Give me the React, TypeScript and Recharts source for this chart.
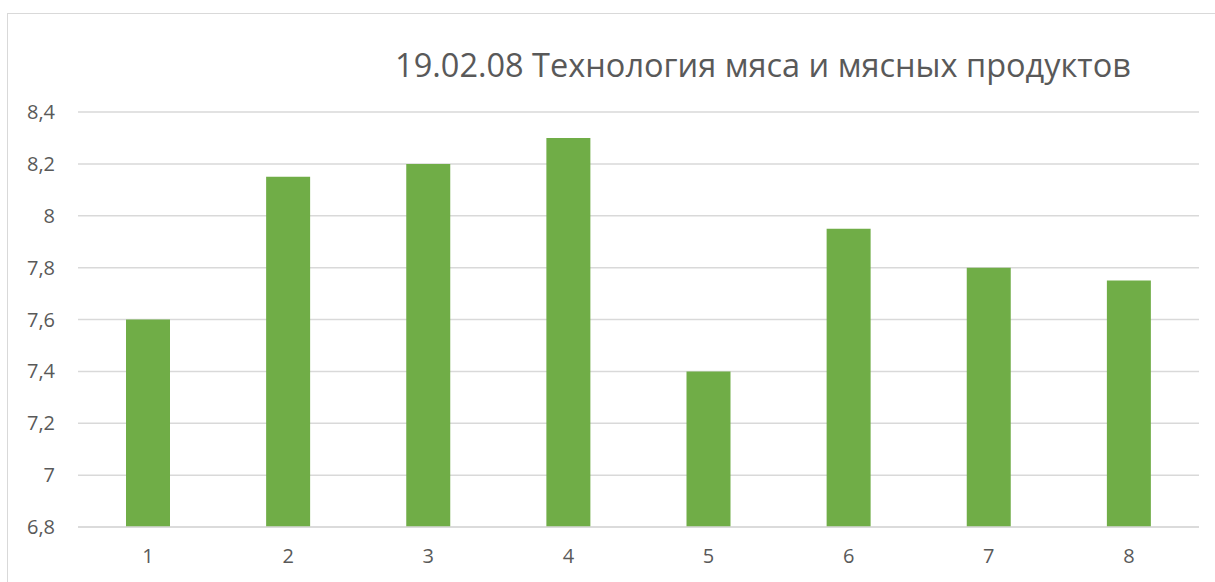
import { BarChart, Bar, XAxis, YAxis, CartesianGrid } from 'recharts'

const categories = ['1', '2', '3', '4', '5', '6', '7', '8']
const scores = [7.6, 8.15, 8.2, 8.3, 7.4, 7.95, 7.8, 7.75]
const yTicks = [6.8, 7, 7.2, 7.4, 7.6, 7.8, 8, 8.2, 8.4]

const data = categories.map((name, i) => ({ name, value: scores[i] }))

const fmt = (v: number) => String(v).replace('.', ',')

const tickStyle = { fill: '#595959', fontSize: 20, fontFamily: 'Open Sans' }

export default function App() {
  return (
    <div style={{ position: 'absolute', left: 0, top: 0, width: 1215, height: 582, background: '#fff', overflow: 'hidden' }}>
      <div
        style={{
          position: 'absolute',
          left: 7,
          top: 13,
          width: 1240,
          height: 600,
          border: '1px solid #d9d9d9',
        }}
      />
      <div
        style={{
          position: 'absolute',
          left: 0,
          width: 1215,
          top: 42,
          paddingLeft: 311,
          boxSizing: 'border-box',
          textAlign: 'center',
          fontFamily: 'Open Sans',
          fontSize: 32.5,
          color: '#595959',
          whiteSpace: 'nowrap',
        }}
      >
        19.02.08 Технология мяса и мясных продуктов
      </div>
      <div style={{ position: 'absolute', left: 0, top: 0 }}>
        <BarChart width={1215} height={582} data={data} margin={{ top: 112, right: 16, bottom: 25, left: 8 }}>
          <CartesianGrid vertical={false} stroke="#d9d9d9" strokeWidth={1.5} />
          <XAxis
            dataKey="name"
            height={30}
            tickLine={false}
            axisLine={{ stroke: '#d9d9d9', strokeWidth: 1.5 }}
            tick={tickStyle}
            tickSize={0}
            tickMargin={22}
          />
          <YAxis
            width={70}
            domain={[6.8, 8.4]}
            ticks={yTicks}
            tickFormatter={fmt}
            axisLine={false}
            tickLine={false}
            tickSize={0}
            tickMargin={23}
            tick={tickStyle}
            interval={0}
          />
          <Bar dataKey="value" fill="#70ad47" barSize={44} isAnimationActive={false} />
        </BarChart>
      </div>
    </div>
  )
}
